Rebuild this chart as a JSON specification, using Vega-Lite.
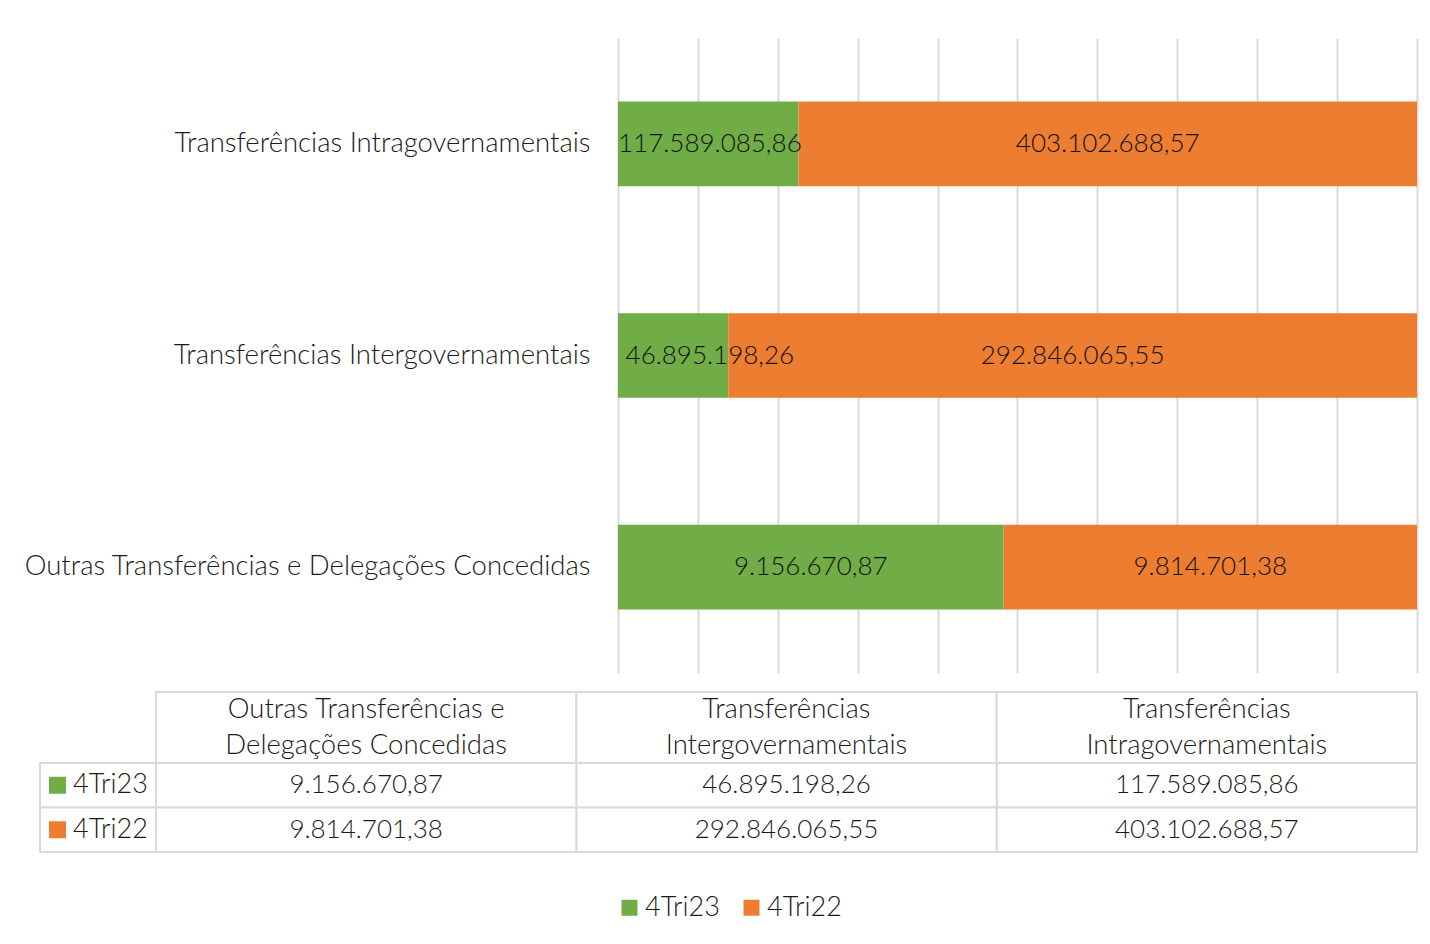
{
  "$schema": "https://vega.github.io/schema/vega-lite/v6.json",
  "padding": {"left": 23, "top": 38, "right": 5, "bottom": 5},
  "background": "white",
  "config": {
    "font": "Lato",
    "view": {"stroke": null},
    "legend": {"layout": {"bottom": {"anchor": "middle"}}},
    "locale": {"number": {"decimal": ",", "thousands": ".", "grouping": [3], "currency": ["R$ ", ""]}}
  },
  "datasets": {
    "vals": [
      {"cat": "Transferências Intragovernamentais", "serie": "4Tri23", "value": 117589085.86},
      {"cat": "Transferências Intragovernamentais", "serie": "4Tri22", "value": 403102688.57},
      {"cat": "Transferências Intergovernamentais", "serie": "4Tri23", "value": 46895198.26},
      {"cat": "Transferências Intergovernamentais", "serie": "4Tri22", "value": 292846065.55},
      {"cat": "Outras Transferências e Delegações Concedidas", "serie": "4Tri23", "value": 9156670.87},
      {"cat": "Outras Transferências e Delegações Concedidas", "serie": "4Tri22", "value": 9814701.38}
    ],
    "cats": [
      {"cat": "Outras Transferências e Delegações Concedidas", "head": "Outras Transferências e\nDelegações Concedidas"},
      {"cat": "Transferências Intergovernamentais", "head": "Transferências\nIntergovernamentais"},
      {"cat": "Transferências Intragovernamentais", "head": "Transferências\nIntragovernamentais"}
    ]
  },
  "spacing": 18,
  "vconcat": [
    {
      "width": 1377,
      "height": 635,
      "data": {"name": "vals"},
      "transform": [
        {"stack": "value", "groupby": ["cat"], "sort": [{"field": "serie", "order": "descending"}], "offset": "normalize", "as": ["v0", "v1"]},
        {"calculate": "max((datum.v0 + datum.v1) / 2, datum.v0 + 0.115)", "as": "vm"}
      ],
      "encoding": {
        "y": {
          "field": "cat", "type": "nominal",
          "sort": ["Transferências Intragovernamentais", "Transferências Intergovernamentais", "Outras Transferências e Delegações Concedidas"],
          "scale": {"type": "band", "paddingInner": 0.6, "paddingOuter": 0.3},
          "axis": {"title": null, "domain": false, "ticks": false, "tickSize": 0, "labelPadding": -550, "labelAlign": "right", "labelLimit": 800, "labelFontSize": 27.5, "labelFont": "Lato", "labelFontWeight": 300, "labelColor": "#1a1a1a"}
        }
      },
      "layer": [
        {
          "mark": {"type": "bar"},
          "encoding": {
            "x": {
              "field": "v0", "type": "quantitative",
              "scale": {"domain": [-0.72337, 1], "nice": false, "zero": false},
              "axis": {"title": null, "values": [0, 0.1, 0.2, 0.3, 0.4, 0.5, 0.6, 0.7, 0.8, 0.9, 1], "labels": false, "ticks": false, "domain": false, "grid": true, "gridColor": "#d9d9d9", "gridWidth": 2}
            },
            "x2": {"field": "v1"},
            "color": {
              "field": "serie", "type": "nominal",
              "scale": {"domain": ["4Tri23", "4Tri22"], "range": ["#70ad47", "#ed7d31"]},
              "legend": {"orient": "bottom", "title": null, "symbolType": "square", "symbolSize": 256, "symbolStrokeWidth": 0, "labelFontSize": 27, "labelFont": "Lato", "labelFontWeight": 300, "labelColor": "#1a1a1a", "columnPadding": 18, "labelOffset": 2, "offset": 41}
            }
          }
        },
        {
          "mark": {"type": "text", "fontSize": 26, "font": "Lato", "fontWeight": 300, "color": "#111111"},
          "encoding": {
            "x": {"field": "vm", "type": "quantitative"},
            "text": {"field": "value", "type": "quantitative", "format": ",.2f"}
          }
        }
      ]
    },
    {
      "width": 1377,
      "height": 160,
      "layer": [
        {
          "data": {"name": "vals"},
          "transform": [{"filter": "datum.cat == 'Transferências Intragovernamentais'"}],
          "mark": {"type": "rect", "fill": "white", "stroke": "#d9d9d9", "strokeWidth": 2},
          "encoding": {
            "y": {"field": "serie", "type": "nominal", "sort": ["4Tri23", "4Tri22"], "scale": {"type": "band", "paddingInner": 0, "paddingOuter": 0.79775, "align": 1}, "axis": null}
          }
        },
        {
          "data": {"name": "cats"},
          "mark": {"type": "rect", "fill": "white", "stroke": "#d9d9d9", "strokeWidth": 2},
          "encoding": {
            "x": {"field": "cat", "type": "nominal", "sort": ["Outras Transferências e Delegações Concedidas", "Transferências Intergovernamentais", "Transferências Intragovernamentais"], "scale": {"type": "band", "paddingInner": 0, "paddingOuter": 0.137986, "align": 1}, "axis": null}
          }
        },
        {
          "data": {"name": "vals"},
          "mark": {"type": "rect", "fill": "white", "stroke": "#d9d9d9", "strokeWidth": 2},
          "encoding": {
            "x": {"field": "cat", "type": "nominal", "sort": ["Outras Transferências e Delegações Concedidas", "Transferências Intergovernamentais", "Transferências Intragovernamentais"], "scale": {"type": "band", "paddingInner": 0, "paddingOuter": 0.137986, "align": 1}, "axis": null},
            "y": {"field": "serie", "type": "nominal", "sort": ["4Tri23", "4Tri22"], "scale": {"type": "band", "paddingInner": 0, "paddingOuter": 0.79775, "align": 1}, "axis": null}
          }
        },
        {
          "data": {"name": "cats"},
          "mark": {"type": "text", "fontSize": 27.5, "font": "Lato", "fontWeight": 300, "color": "#1a1a1a", "lineBreak": "\n", "lineHeight": 36, "dy": -18},
          "encoding": {
            "x": {"field": "cat", "type": "nominal", "sort": ["Outras Transferências e Delegações Concedidas", "Transferências Intergovernamentais", "Transferências Intragovernamentais"], "scale": {"type": "band", "paddingInner": 0, "paddingOuter": 0.137986, "align": 1}, "axis": null},
            "y": {"datum": "h", "type": "nominal", "scale": {"type": "band", "domain": ["h"], "paddingInner": 0, "paddingOuter": 0.62676, "align": 0}, "axis": null},
            "text": {"field": "head", "type": "nominal"}
          }
        },
        {
          "data": {"name": "vals"},
          "mark": {"type": "text", "fontSize": 26, "font": "Lato", "fontWeight": 300, "color": "#1a1a1a"},
          "encoding": {
            "x": {"field": "cat", "type": "nominal", "sort": ["Outras Transferências e Delegações Concedidas", "Transferências Intergovernamentais", "Transferências Intragovernamentais"], "scale": {"type": "band", "paddingInner": 0, "paddingOuter": 0.137986, "align": 1}, "axis": null},
            "y": {"field": "serie", "type": "nominal", "sort": ["4Tri23", "4Tri22"], "scale": {"type": "band", "paddingInner": 0, "paddingOuter": 0.79775, "align": 1}, "axis": null},
            "text": {"field": "value", "type": "quantitative", "format": ",.2f"}
          }
        },
        {
          "data": {"name": "vals"},
          "transform": [{"filter": "datum.cat == 'Outras Transferências e Delegações Concedidas'"}],
          "mark": {"type": "point", "shape": "square", "filled": true, "size": 289, "opacity": 1},
          "encoding": {
            "x": {"field": "cat", "type": "nominal", "bandPosition": -0.2343, "scale": {"type": "band", "domain": ["Outras Transferências e Delegações Concedidas", "Transferências Intergovernamentais", "Transferências Intragovernamentais"], "paddingInner": 0, "paddingOuter": 0.137986, "align": 1}, "axis": null},
            "y": {"field": "serie", "type": "nominal", "sort": ["4Tri23", "4Tri22"], "scale": {"type": "band", "paddingInner": 0, "paddingOuter": 0.79775, "align": 1}, "axis": null},
            "color": {"field": "serie", "type": "nominal"}
          }
        },
        {
          "data": {"name": "vals"},
          "transform": [{"filter": "datum.cat == 'Outras Transferências e Delegações Concedidas'"}],
          "mark": {"type": "text", "fontSize": 27, "font": "Lato", "fontWeight": 300, "color": "#1a1a1a", "align": "left"},
          "encoding": {
            "x": {"field": "cat", "type": "nominal", "bandPosition": -0.1975, "scale": {"type": "band", "domain": ["Outras Transferências e Delegações Concedidas", "Transferências Intergovernamentais", "Transferências Intragovernamentais"], "paddingInner": 0, "paddingOuter": 0.137986, "align": 1}, "axis": null},
            "y": {"field": "serie", "type": "nominal", "sort": ["4Tri23", "4Tri22"], "scale": {"type": "band", "paddingInner": 0, "paddingOuter": 0.79775, "align": 1}, "axis": null},
            "text": {"field": "serie", "type": "nominal"}
          }
        }
      ],
      "resolve": {"scale": {"x": "independent", "y": "independent"}}
    }
  ]
}
